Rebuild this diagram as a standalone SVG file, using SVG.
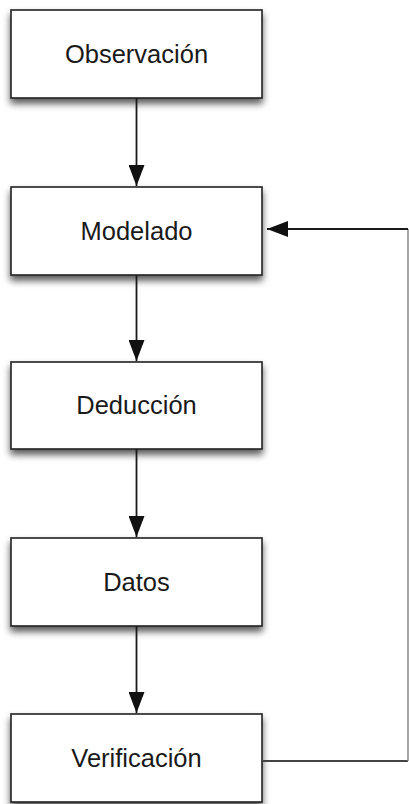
<svg xmlns="http://www.w3.org/2000/svg" width="409" height="804" viewBox="0 0 409 804">
  <style>
    .box { fill: #ffffff; stroke: #222222; stroke-width: 1.6; filter: url(#shadow); }
    .label { font-family: "Liberation Sans", Arial, Helvetica, sans-serif; font-size: 25.5px; fill: #1a1a1a; text-anchor: middle; }
    .conn { fill: none; stroke: #1a1a1a; stroke-width: 1.8; }
    .fb { fill: none; stroke: #444444; stroke-width: 1.8; }
  </style>
  <defs>
    <filter id="shadow" x="-10%" y="-20%" width="120%" height="150%">
      <feDropShadow dx="0" dy="5" stdDeviation="3.5" flood-color="#000000" flood-opacity="0.65"/>
    </filter>
    <marker id="arrow" markerWidth="21" markerHeight="16" refX="21" refY="8" orient="auto" markerUnits="userSpaceOnUse">
      <path d="M0,0 L21,8 L0,16 Z" fill="#111111"/>
    </marker>
  </defs>
  <rect width="409" height="804" fill="#ffffff"/>

  <g id="n-observacion">
    <rect class="box" x="11" y="10" width="251" height="88"/>
    <text class="label" x="136.5" y="63">Observación</text>
  </g>
  <g id="n-modelado">
    <rect class="box" x="11" y="187" width="251" height="88"/>
    <text class="label" x="136.5" y="240">Modelado</text>
  </g>
  <g id="n-deduccion">
    <rect class="box" x="11" y="362" width="251" height="87"/>
    <text class="label" x="136.5" y="414">Deducción</text>
  </g>
  <g id="n-datos">
    <rect class="box" x="11" y="538" width="251" height="88"/>
    <text class="label" x="136.5" y="591">Datos</text>
  </g>
  <g id="n-verificacion">
    <rect class="box" x="11" y="714" width="251" height="88"/>
    <text class="label" x="136.5" y="767">Verificación</text>
  </g>

  <g id="connectors">
    <line class="conn" x1="136.5" y1="98" x2="136.5" y2="186" marker-end="url(#arrow)"/>
    <line class="conn" x1="136.5" y1="275" x2="136.5" y2="361" marker-end="url(#arrow)"/>
    <line class="conn" x1="136.5" y1="449" x2="136.5" y2="537" marker-end="url(#arrow)"/>
    <line class="conn" x1="136.5" y1="626" x2="136.5" y2="713" marker-end="url(#arrow)"/>
    <polyline class="fb" points="262,761 408,761"/>
    <line x1="408" y1="229" x2="408" y2="761" stroke="#888888" stroke-width="1.5"/>
    <line class="conn" x1="408" y1="229" x2="267" y2="229" marker-end="url(#arrow)"/>
  </g>
</svg>
